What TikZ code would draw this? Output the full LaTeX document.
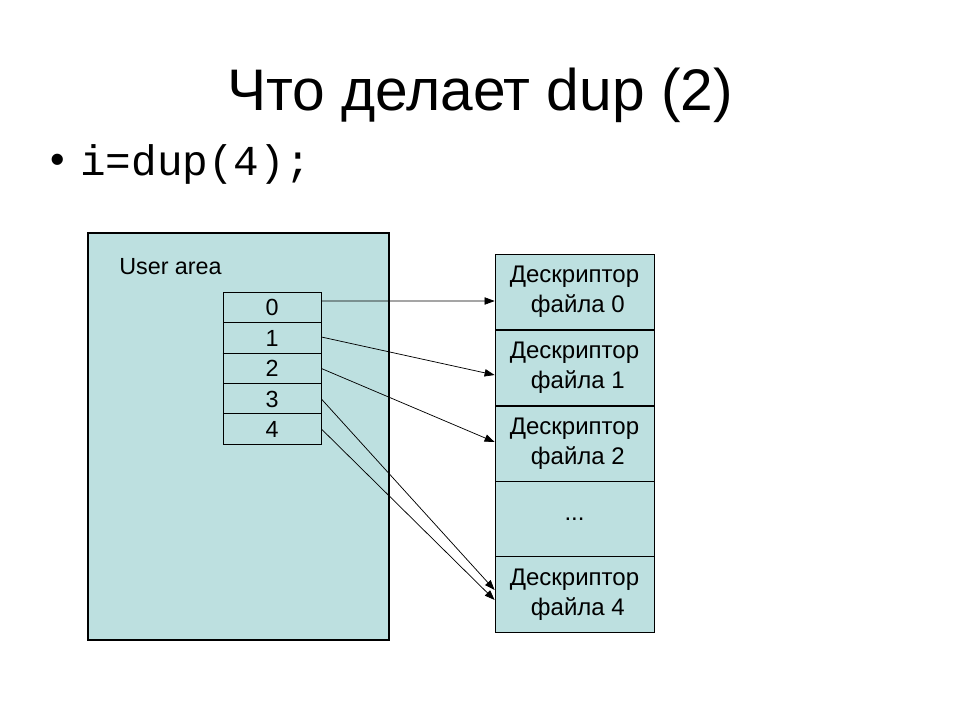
\documentclass[tikz,border=0pt]{standalone}
\usepackage{fontspec}
\setmainfont{Liberation Sans}
\setmonofont{Liberation Mono}
\usetikzlibrary{arrows.meta}
\definecolor{areablue}{RGB}{189,224,224}
\begin{document}
\begin{tikzpicture}[x=0.75pt,y=-0.75pt,
  area/.style={draw=black,fill=areablue,line width=0.8pt,inner sep=0pt},
  cell/.style={draw=black,fill=areablue,line width=0.6pt,minimum width=73.5pt,minimum height=22.8pt,inner sep=0pt,font=\fontsize{17.5}{18}\selectfont},
  desc/.style={draw=black,fill=areablue,line width=0.6pt,minimum width=119.25pt,minimum height=56.7pt,inner sep=0pt,align=center,font=\fontsize{18}{22.5}\selectfont},
  arr/.style={-{Triangle[length=7.5pt,width=5.5pt]},line width=0.55pt}]
\useasboundingbox (0,0) rectangle (960,720);
\fill[white] (0,0) rectangle (960,720);
\node (title) at (480,95) {\fontsize{44}{50}\selectfont Что делает dup (2)};
\node[anchor=west] (bullet) at (46,164) {\fontsize{31}{34}\selectfont •};
\node[anchor=west,inner sep=0pt] (code) at (80,164) {\fontsize{32}{34}\selectfont\ttfamily i=dup(4);};
\node[area,minimum width=225.75pt,minimum height=305.25pt] (ua) at (238.5,436.5) {};
\node[anchor=west,inner sep=0pt] (ualabel) at (119,267) {\fontsize{17.5}{18}\selectfont User area};
\node[cell] (c0) at (272,307.5) {0};
\node[cell] (c1) at (272,338) {1};
\node[cell] (c2) at (272,368.5) {2};
\node[cell] (c3) at (272,399) {3};
\node[cell] (c4) at (272,429) {4};
\draw[line width=1.3pt] (c1.south west) -- (c1.south east);
\node[desc] (d0) at (574.5,292) {Дескриптор\\\ файла 0};
\node[desc] (d1) at (574.5,368) {Дескриптор\\\ файла 1};
\node[desc] (d2) at (574.5,444) {Дескриптор\\\ файла 2};
\node[desc] (d3) at (574.5,519.5) {...};
\node[desc] (d4) at (574.5,594.5) {Дескриптор\\\ файла 4};
\draw[arr] ([yshift=4.9pt]c0.east) -- ([yshift=-6.75pt]d0.west);
\draw[arr] ([yshift=0.75pt]c1.east) -- ([yshift=-5.25pt]d1.west);
\draw[arr] (c2.east) -- ([yshift=1.5pt]d2.west);
\draw[arr] (c3.east) -- ([yshift=3.4pt]d4.west);
\draw[arr] (c4.east) -- ([yshift=-4.1pt]d4.west);
\end{tikzpicture}
\end{document}
